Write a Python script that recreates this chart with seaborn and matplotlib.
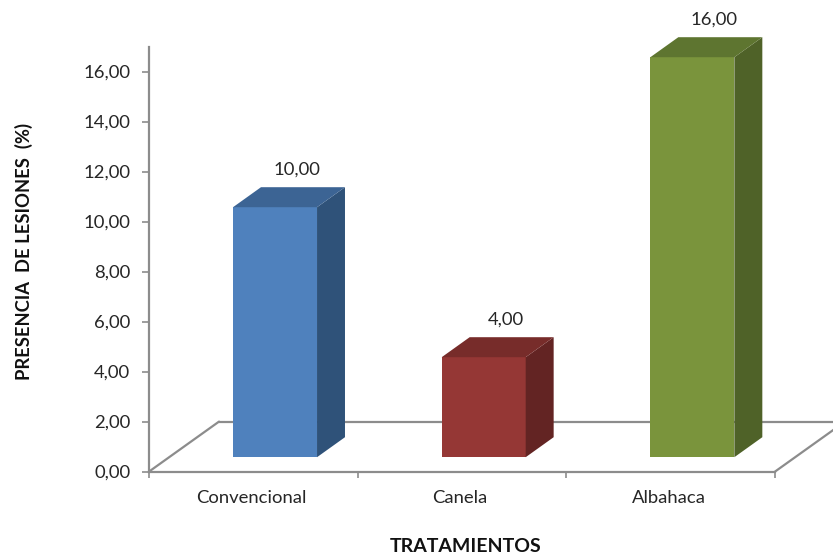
import matplotlib
matplotlib.use("Agg")
import matplotlib.pyplot as plt
from matplotlib.patches import Polygon
from matplotlib.transforms import ScaledTranslation
import pandas as pd
import seaborn as sns

# Values
tratamientos = ["Convencional", "Canela", "Albahaca"]
lesiones = [10.0, 4.0, 16.0]
y_ticks = [0, 2, 4, 6, 8, 10, 12, 14, 16]

# Face colours per bar: front, side, top
front_colors = ["#4F81BD", "#953735", "#7A943C"]
side_colors = ["#2F5279", "#632423", "#4F6228"]
top_colors = ["#3C6494", "#772C2A", "#5E7530"]

AXIS_COLOR = "#8C8C8C"
TEXT_COLOR = "#262626"

sns.set_theme(style="white")
plt.rcParams["font.family"] = ["Lato", "DejaVu Sans"]

# Oblique projection used for the pseudo-3D look, in data units
FLOOR_DX, FLOOR_DY = 0.3355, 2.0
BAR_SHIFT_X, BAR_SHIFT_Y = 0.104, 0.576
BAR_DX, BAR_DY = 0.134, 0.8

df = pd.DataFrame({"tratamiento": tratamientos, "lesiones": lesiones})

fig = plt.figure(figsize=(8.33, 5.54), dpi=100)
ax = fig.add_axes([149 / 833, (554 - 471.6) / 554, 626 / 833, 424.6 / 554])

sns.barplot(
    data=df, x="tratamiento", y="lesiones", hue="tratamiento",
    palette=front_colors, width=0.4025, saturation=1, legend=False,
    linewidth=0, ax=ax, zorder=3,
)
ax.set_xlim(-0.5, 2.5)
ax.set_ylim(0, 16.984)

# Floor of the 3D box
x0, x1 = -0.5, 2.5
floor_style = dict(color=AXIS_COLOR, lw=1.6, zorder=1, clip_on=False)
ax.plot([x0, x0 + FLOOR_DX], [0, FLOOR_DY], **floor_style)
ax.plot([x0 + FLOOR_DX, x1 + FLOOR_DX], [FLOOR_DY, FLOOR_DY], **floor_style)
ax.plot([x1, x1 + FLOOR_DX], [0, FLOOR_DY], **floor_style)

# Shift each bar onto the floor and add its side and top faces
for i, bar in enumerate(ax.patches):
    bar.set_x(bar.get_x() + BAR_SHIFT_X)
    bar.set_y(BAR_SHIFT_Y)
    l, r = bar.get_x(), bar.get_x() + bar.get_width()
    b, t = bar.get_y(), bar.get_y() + bar.get_height()
    ax.add_patch(Polygon(
        [(r, b), (r + BAR_DX, b + BAR_DY), (r + BAR_DX, t + BAR_DY), (r, t)],
        closed=True, facecolor=side_colors[i], edgecolor="none",
        zorder=3, clip_on=False,
    ))
    ax.add_patch(Polygon(
        [(l, t), (l + BAR_DX, t + BAR_DY), (r + BAR_DX, t + BAR_DY), (r, t)],
        closed=True, facecolor=top_colors[i], edgecolor="none",
        zorder=3, clip_on=False,
    ))
    ax.annotate(
        f"{lesiones[i]:.2f}".replace(".", ","),
        xy=(i, lesiones[i]), xytext=(43.7, 51.5), textcoords="offset pixels",
        ha="center", va="center", fontsize=13.3, color=TEXT_COLOR,
        annotation_clip=False,
    )

# Axes
sns.despine(ax=ax, top=True, right=True)
for side in ("left", "bottom"):
    ax.spines[side].set_color(AXIS_COLOR)
    ax.spines[side].set_linewidth(1.6)

ax.set_yticks(y_ticks)
ax.set_yticklabels([f"{v:.2f}".replace(".", ",") for v in y_ticks])
ax.set_xticks([-0.5, 0.5, 1.5, 2.5], minor=False)
ax.set_xticklabels([])
ax.set_xticks([0, 1, 2], minor=True)
ax.set_xticklabels(tratamientos, minor=True)
ax.tick_params(axis="y", length=5, width=1.2, color=AXIS_COLOR, left=True,
               labelsize=13.3, labelcolor=TEXT_COLOR, pad=8.4)
ax.tick_params(axis="x", which="major", length=4.5, width=1.2,
               color=AXIS_COLOR, bottom=True)
ax.tick_params(axis="x", which="minor", length=0, labelsize=13.3,
               labelcolor=TEXT_COLOR, pad=13.5)

# Nudge the category names slightly to the left
nudge = ScaledTranslation(-1.5 / 72, 0, fig.dpi_scale_trans)
for label in ax.get_xticklabels(minor=True):
    label.set_transform(label.get_transform() + nudge)

ax.set_xlabel("TRATAMIENTOS", fontsize=14, fontweight="bold",
              color="#111111", va="center")
ax.set_ylabel("PRESENCIA  DE LESIONES  (%)", fontsize=13.2, fontweight="bold",
              color="#111111", va="center")
ax.xaxis.set_label_coords((466 - 149) / 626, -75.2 / 424.6)
ax.yaxis.set_label_coords((24 - 149) / 626, (471.6 - 252) / 424.6)

fig.savefig("out.png", dpi=100)
